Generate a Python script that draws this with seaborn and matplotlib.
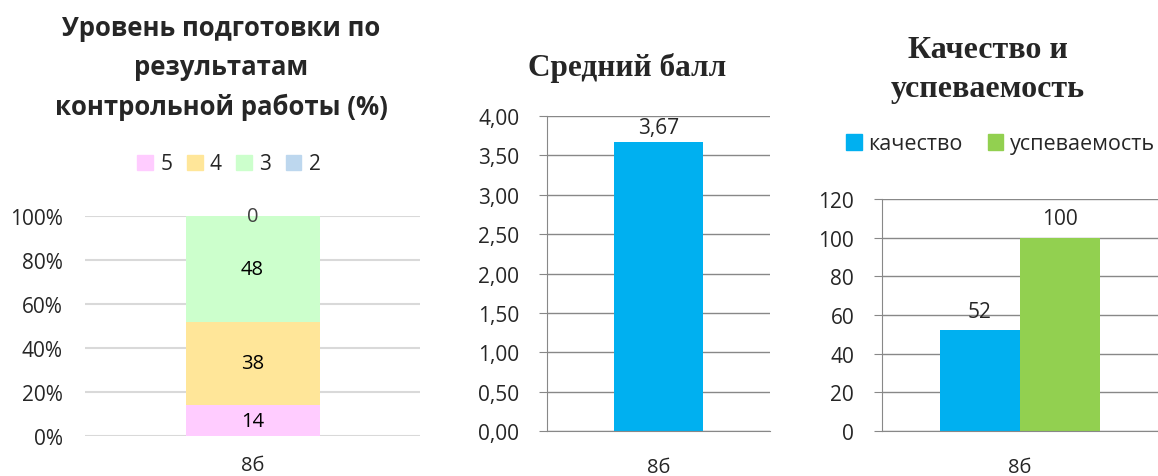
import numpy as np
import seaborn as sns
import matplotlib.pyplot as plt
from matplotlib.patches import Patch
from matplotlib.ticker import FuncFormatter

# data
group = ["8б"]
grades = ["5", "4", "3", "2"]
grade_pct = [14, 38, 48, 0]
grade_colors = ["#ffccff", "#ffe699", "#ccffcc", "#bdd7ee"]

avg_score = [3.67]

qa_series = ["качество", "успеваемость"]
qa_values = [52, 100]
qa_colors = ["#00b0f0", "#92d050"]

sns.set_style("white")
plt.rcParams['font.family'] = ['Open Sans', 'DejaVu Sans']

W, H = 1158, 477
fig = plt.figure(figsize=(W / 100, H / 100), dpi=100)

def px_axes(left, top, right, bottom):
    return fig.add_axes([left / W, 1 - bottom / H, (right - left) / W, (bottom - top) / H])

def comma(v, p=None):
    return f"{v:.2f}".replace(".", ",")

serif = ["Liberation Serif", "DejaVu Serif"]

# ---- panel 1: stacked 100% bar
ax1 = px_axes(85, 217, 420, 437)
cum = np.cumsum(grade_pct)
for i in reversed(range(len(grades))):
    sns.barplot(x=group, y=[cum[i]], color=grade_colors[i], width=0.4,
                saturation=1, linewidth=0, ax=ax1, zorder=2)
for i in range(len(grades)):
    yc = cum[i] - grade_pct[i] / 2
    col = "#404040" if grade_pct[i] == 0 else "black"
    ax1.text(0, yc, str(grade_pct[i]), ha="center", va="center", fontsize=14.5, color=col, zorder=3)
ax1.set_ylim(0, 100)
ax1.set_yticks(range(0, 101, 20))
ax1.yaxis.set_major_formatter(FuncFormatter(lambda v, p: f"{v:.0f}%"))
ax1.grid(axis="y", color="#d9d9d9", linewidth=1.5, zorder=0)
ax1.set_axisbelow(True)
for s in ax1.spines.values():
    s.set_visible(False)
ax1.tick_params(axis="y", length=0, pad=16, labelsize=15)
ax1.tick_params(axis="x", length=0, pad=14, labelsize=14.5)
ax1.set_xlabel("")
ax1.set_ylabel("")
h1 = [Patch(color=c) for c in grade_colors]
ax1.legend(h1, grades, ncol=4, frameon=False, loc="center",
           bbox_to_anchor=(0.43, 1 + 52 / 220), fontsize=15,
           handlelength=0.75, handleheight=0.75, handletextpad=0.35, columnspacing=0.7)
fig.text(221 / W, 1 - 68 / H, "Уровень подготовки по\nрезультатам\nконтрольной работы (%)",
         ha="center", va="center", fontsize=18.5, fontweight="bold", linespacing=1.6)

# ---- panel 2: average score
ax2 = px_axes(547, 117, 770, 432)
sns.barplot(x=group, y=avg_score, color="#00b0f0", width=0.4, saturation=1,
            linewidth=0, ax=ax2, zorder=2)
ax2.bar_label(ax2.containers[0], labels=[comma(v) for v in avg_score], fontsize=15, padding=3)
ax2.set_ylim(0, 4)
ax2.set_yticks(np.arange(0, 4.01, 0.5))
ax2.yaxis.set_major_formatter(FuncFormatter(comma))
ax2.grid(axis="y", color="#888888", linewidth=1, zorder=0)
ax2.set_axisbelow(True)
for s in ["top", "right"]:
    ax2.spines[s].set_visible(False)
for s in ["left", "bottom"]:
    ax2.spines[s].set_color("#888888")
ax2.set_xticks([-0.5, 0.5], minor=True)
ax2.tick_params(axis="x", which="minor", length=6, color="#888888", direction="out")
ax2.tick_params(axis="x", which="major", length=0, pad=19, labelsize=14.5)
ax2.tick_params(axis="y", length=6, color="#888888", left=True, pad=14, labelsize=15)
ax2.set_xlabel("")
ax2.set_ylabel("")
fig.text(627 / W, 1 - 68 / H, "Средний балл", ha="center", va="center",
         fontsize=22.5, fontweight="bold", family=serif)

# ---- panel 3: quality and progress
ax3 = px_axes(882, 200, 1158, 432)
sns.barplot(x=group * len(qa_series), y=qa_values, hue=qa_series, palette=qa_colors,
            width=0.58, saturation=1, linewidth=0, ax=ax3, zorder=2, legend=False)
for cont, v in zip(ax3.containers, qa_values):
    ax3.bar_label(cont, labels=[str(v)], fontsize=15, padding=6)
ax3.set_xlim(-0.5, 0.5)
ax3.set_ylim(0, 120)
ax3.set_yticks(range(0, 121, 20))
ax3.grid(axis="y", color="#888888", linewidth=1, zorder=0)
ax3.set_axisbelow(True)
for s in ["top", "right"]:
    ax3.spines[s].set_visible(False)
for s in ["left", "bottom"]:
    ax3.spines[s].set_color("#888888")
ax3.set_xticks([-0.5], minor=True)
ax3.tick_params(axis="x", which="minor", length=6, color="#888888", direction="out")
ax3.tick_params(axis="x", which="major", length=0, pad=19, labelsize=14.5)
ax3.tick_params(axis="y", length=6, color="#888888", left=True, pad=14, labelsize=15)
ax3.set_xlabel("")
ax3.set_ylabel("")
h3 = [Patch(color=c) for c in qa_colors]
ax3.legend(h3, qa_series, ncol=2, frameon=False, loc="center",
           bbox_to_anchor=(0.43, 1 + 55 / 232), fontsize=15.5,
           handlelength=0.7, handleheight=0.7, handletextpad=0.3, columnspacing=1.2)
fig.text(988 / W, 1 - 70 / H, "Качество и\nуспеваемость", ha="center", va="center",
         fontsize=23, fontweight="bold", linespacing=1.45, family=serif)

fig.savefig("out.png", dpi=100)
